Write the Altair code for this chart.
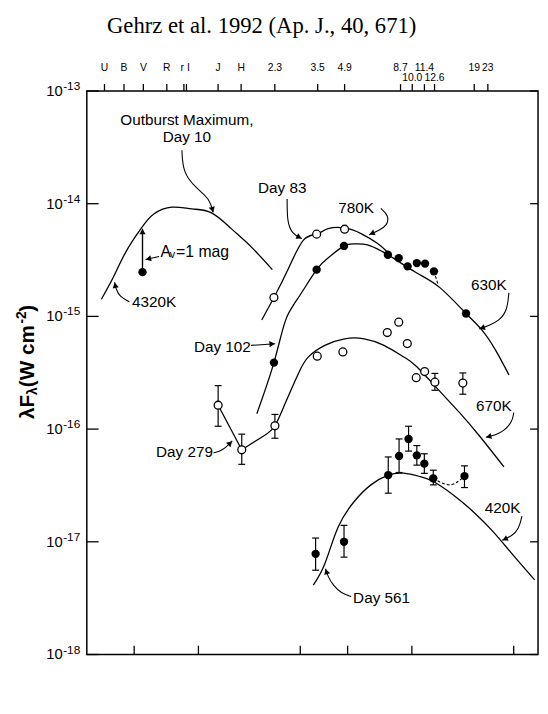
import math
import altair as alt
import pandas as pd

# ---------------- data ----------------
# Day 10 (outburst maximum), 4320 K curve and V point
d10_curve_wl = [0.351, 0.398, 0.458, 0.538, 0.620, 0.753, 0.931, 1.152, 1.425, 1.762, 2.220]
d10_curve_f = [1.42e-15, 2.20e-15, 3.76e-15, 6.01e-15, 8.13e-15, 9.31e-15, 8.99e-15, 8.30e-15, 6.01e-15, 4.16e-15, 2.60e-15]
d10_pt_wl = [0.547]
d10_pt_f = [2.47e-15]
d10_dered_f = [6.0e-15]

# Day 83 (open circles), 780 K curve
d83_wl = [2.258, 3.58, 4.84]
d83_f = [1.47e-15, 5.37e-15, 5.94e-15]
d83_curve_wl = [1.98, 2.258, 2.648, 3.105, 3.58, 4.05, 4.84, 5.78, 6.89, 7.64]
d83_curve_f = [9.3e-16, 1.47e-15, 2.69e-15, 4.75e-15, 5.37e-15, 6.01e-15, 6.10e-15, 5.43e-15, 4.45e-15, 3.76e-15]

# Day 102 (filled circles), 630 K curve
d102_wl = [2.258, 3.58, 4.81, 7.72, 8.68, 9.55, 10.55, 11.53, 12.69, 17.94]
d102_f = [3.89e-16, 2.60e-15, 4.22e-15, 3.52e-15, 3.29e-15, 2.78e-15, 2.97e-15, 2.94e-15, 2.51e-15, 1.06e-15]
d102_curve_wl = [1.878, 2.258, 2.557, 2.936, 3.58, 4.125, 4.81, 5.38, 6.20, 7.27, 8.23, 10.55, 13.53, 17.94, 21.4, 24.7, 28.5]
d102_curve_f = [1.37e-16, 3.89e-16, 9.18e-16, 1.46e-15, 2.60e-15, 3.40e-15, 4.22e-15, 4.40e-15, 4.31e-15, 3.76e-15, 3.27e-15,
                2.43e-15, 1.80e-15, 1.06e-15, 7.48e-16, 5.00e-16, 3.03e-16]
d102_dash_wl = [12.69, 13.28]
d102_dash_f = [2.51e-15, 1.91e-15]

# Day 279 (open circles), straight join J-H, then 670 K curve
d279_wl = [1.237, 1.596, 2.282, 3.604, 4.75, 7.67, 8.68, 9.52, 10.48, 11.48, 12.82, 17.33]
d279_f = [1.63e-16, 6.55e-17, 1.07e-16, 4.44e-16, 4.84e-16, 7.19e-16, 8.89e-16, 5.74e-16, 2.86e-16, 3.24e-16, 2.61e-16, 2.56e-16]
d279_err_wl = [1.237, 1.596, 2.282, 12.82, 17.33]
d279_err_lo = [1.06e-16, 4.87e-17, 8.3e-17, 2.21e-16, 2.04e-16]
d279_err_hi = [2.43e-16, 9.02e-17, 1.35e-16, 3.12e-16, 3.15e-16]
d279_join_wl = [1.237, 1.596]
d279_join_f = [1.63e-16, 6.55e-17]
d279_curve_wl = [1.596, 2.030, 2.282, 2.557, 2.945, 3.275, 3.911, 4.84, 5.98, 7.40, 9.16, 10.55, 13.53, 16.73, 20.7, 27.0]
d279_curve_f = [6.55e-17, 8.73e-17, 1.07e-16, 1.71e-16, 3.13e-16, 4.37e-16, 5.53e-16, 6.33e-16, 6.33e-16,
                5.53e-16, 4.37e-16, 3.57e-16, 2.16e-16, 1.40e-16, 8.73e-17, 4.62e-17]

# Day 561 (filled circles with error bars), 420 K curve
d561_wl = [3.54, 4.81, 7.75, 8.71, 9.65, 10.55, 11.44, 12.60, 17.64]
d561_f = [7.82e-18, 1.00e-17, 3.91e-17, 5.78e-17, 8.18e-17, 5.85e-17, 4.94e-17, 3.66e-17, 3.83e-17]
d561_lo = [5.60e-18, 7.31e-18, 2.70e-17, 4.12e-17, 6.38e-17, 4.79e-17, 4.05e-17, 3.20e-17, 3.03e-17]
d561_hi = [1.08e-17, 1.40e-17, 5.66e-17, 8.18e-17, 1.06e-16, 7.14e-17, 6.04e-17, 4.32e-17, 4.72e-17]
d561_dash_wl = [12.60, 15.04, 17.64]
d561_dash_f = [3.66e-17, 3.20e-17, 3.83e-17]
c420_wl = [3.454, 3.911, 4.506, 5.38, 6.43, 7.75, 9.16, 10.93, 12.60, 15.58, 19.27, 23.84, 29.48, 37.6]
c420_f = [4.13e-18, 6.38e-18, 1.34e-17, 2.29e-17, 3.20e-17, 3.91e-17, 4.06e-17, 3.79e-17, 3.43e-17, 2.62e-17,
          1.87e-17, 1.25e-17, 7.82e-18, 4.60e-18]

# annotation labels
ann_text = ["Outburst Maximum,", "Day 10", "4320K", "Day 83", "780K", "630K", "Day 102", "Day 279", "670K", "420K", "Day 561"]
ann_wl = [0.883, 0.883, 0.620, 2.469, 5.48, 22.96, 1.295, 0.860, 24.2, 26.6, 7.21]
ann_f = [5.47e-14, 3.88e-14, 1.33e-15, 1.39e-14, 9.12e-15, 1.91e-15, 5.35e-16, 6.25e-17, 1.60e-16, 2.00e-17, 3.16e-18]

av_text = ["A", "v", "=1 mag"]
av_wl = [0.665, 0.733, 0.786]
av_f = [3.76e-15, 3.47e-15, 3.76e-15]

# leader arrows (last point = arrow tip)
leaders = {
    "day10": ([0.837, 0.846, 0.982, 1.128, 1.173], [2.98e-14, 1.87e-14, 1.36e-14, 1.11e-14, 8.37e-15]),
    "av": ([0.654, 0.565], [3.40e-15, 3.20e-15]),
    "k4320": ([0.475, 0.4286, 0.4108, 0.405], [1.35e-15, 1.49e-15, 1.75e-15, 2.01e-15]),
    "day83": ([2.604, 2.604, 2.746, 3.053], [1.10e-14, 6.87e-15, 5.42e-15, 4.90e-15]),
    "k780": ([7.15, 7.80, 7.67, 7.02, 6.31], [9.08e-15, 7.84e-15, 6.41e-15, 5.80e-15, 5.31e-15]),
    "k630": ([28.47, 27.96, 25.59, 23.01, 20.70], [1.62e-15, 1.12e-15, 9.16e-16, 8.28e-16, 7.75e-16]),
    "day102": ([1.762, 2.287], [5.53e-16, 5.72e-16]),
    "day279": ([1.177, 1.295, 1.440], [6.17e-17, 6.42e-17, 7.85e-17]),
    "k670": ([30.02, 29.48, 27.0, 24.69, 22.20], [1.40e-16, 1.15e-16, 9.66e-17, 8.87e-17, 8.46e-17]),
    "k420": ([32.8, 31.66, 29.48, 26.5], [1.69e-17, 1.29e-17, 1.13e-17, 1.03e-17]),
    "day561": ([5.195, 4.67, 4.27, 4.05, 3.94], [3.27e-18, 3.49e-18, 4.13e-18, 4.89e-18, 5.77e-18]),
}

# axes
x_label_values = [0.3, 0.5, 1.0, 3.0, 5.0, 10.0, 30.0]
x_tick_values = [0.5, 1.0, 3.0, 5.0, 10.0, 30.0]
y_tick_values = [1e-13, 1e-14, 1e-15, 1e-16, 1e-17, 1e-18]
y_tick_exp = ["-13", "-14", "-15", "-16", "-17", "-18"]
top_tick_wl = [0.363, 0.448, 0.552, 0.711, 0.855, 0.879, 1.236, 1.585, 2.28, 3.62, 4.84, 8.85, 10.04, 11.45, 12.77, 19.6, 22.7]
top_upper_names = ["U", "B", "V", "R", "r I", "J", "H", "2.3", "3.5", "4.9", "8.7", "11.4", "19", "23"]
top_upper_wl = [0.363, 0.448, 0.552, 0.711, 0.867, 1.236, 1.585, 2.28, 3.62, 4.84, 8.85, 11.45, 19.6, 22.7]
top_lower_names = ["10.0", "12.6"]
top_lower_wl = [10.04, 12.77]

TITLE = "Gehrz et al. 1992 (Ap. J., 40, 671)"

# ---------------- chart ----------------
W, H = 458, 572
XD = [0.3, 39.0]
YD = [1e-18, 1e-13]
FONT = "Liberation Sans"

xs = alt.Scale(type="log", domain=XD, nice=False)
ys = alt.Scale(type="log", domain=YD, nice=False)


def X(field="wl"):
    return alt.X(f"{field}:Q", scale=xs, axis=None)


def Y(field="f"):
    return alt.Y(f"{field}:Q", scale=ys, axis=None)


def to_px(wl, f):
    lx0, lx1 = math.log10(XD[0]), math.log10(XD[1])
    ly0, ly1 = math.log10(YD[0]), math.log10(YD[1])
    return W * (math.log10(wl) - lx0) / (lx1 - lx0), H * (ly1 - math.log10(f)) / (ly1 - ly0)


def from_px(px, py):
    lx0, lx1 = math.log10(XD[0]), math.log10(XD[1])
    ly0, ly1 = math.log10(YD[0]), math.log10(YD[1])
    return 10 ** (lx0 + px / W * (lx1 - lx0)), 10 ** (ly1 - py / H * (ly1 - ly0))


x_axis = alt.Axis(values=x_label_values, format=".1f", ticks=False, tickSize=0, domain=False, grid=False,
                  labelFont=FONT, labelFontSize=10, labelColor="black", labelPadding=9, labelFlush=False,
                  labelOverlap=False, title="λ in Microns", titleFont=FONT, titleFontSize=21,
                  titleFontWeight="bold", titleColor="black", titleY=45, titleBaseline="alphabetic")

curves = pd.concat([
    pd.DataFrame({"wl": d10_curve_wl, "f": d10_curve_f, "id": "d10"}),
    pd.DataFrame({"wl": d83_curve_wl, "f": d83_curve_f, "id": "d83"}),
    pd.DataFrame({"wl": d102_curve_wl, "f": d102_curve_f, "id": "d102"}),
    pd.DataFrame({"wl": d279_curve_wl, "f": d279_curve_f, "id": "d279"}),
    pd.DataFrame({"wl": c420_wl, "f": c420_f, "id": "d561"}),
], ignore_index=True)

curve_layer = alt.Chart(curves).mark_line(interpolate="natural", color="black", strokeWidth=1.3).encode(
    x=alt.X("wl:Q", scale=xs, axis=x_axis), y=Y(), detail="id:N")

join_layer = alt.Chart(pd.DataFrame({"wl": d279_join_wl, "f": d279_join_f})).mark_line(
    color="black", strokeWidth=1.3).encode(x=X(), y=Y())

dashes = pd.concat([
    pd.DataFrame({"wl": d102_dash_wl, "f": d102_dash_f, "id": "a"}),
    pd.DataFrame({"wl": d561_dash_wl, "f": d561_dash_f, "id": "b"}),
], ignore_index=True)
dash_layer = alt.Chart(dashes).mark_line(interpolate="monotone", color="black", strokeWidth=1.1,
                                         strokeDash=[3, 2]).encode(x=X(), y=Y(), detail="id:N")

# leaders
rows = []
heads = []
for name, (lw, lf) in leaders.items():
    for i, (a, b) in enumerate(zip(lw, lf)):
        rows.append({"wl": a, "f": b, "id": name, "idx": i})
    p1 = to_px(lw[-2], lf[-2])
    p2 = to_px(lw[-1], lf[-1])
    dx, dy = p2[0] - p1[0], p2[1] - p1[1]
    n = math.hypot(dx, dy) or 1.0
    ang = math.degrees(math.atan2(dx, -dy)) % 360
    cw, cf = from_px(p2[0] - dx / n * 3.0, p2[1] - dy / n * 3.0)
    heads.append({"wl": cw, "f": cf, "angle": ang})

# the A_V vertical arrow
p2 = to_px(d10_pt_wl[0], d10_dered_f[0])
cw, cf = from_px(p2[0], p2[1] + 3.0)
heads.append({"wl": cw, "f": cf, "angle": 0.0})

leader_layer = alt.Chart(pd.DataFrame(rows)).mark_line(interpolate="basis", color="black", strokeWidth=1.1).encode(
    x=X(), y=Y(), detail="id:N", order=alt.Order("idx:Q"))
head_layer = alt.Chart(pd.DataFrame(heads)).mark_point(shape="triangle-up", filled=True, color="black",
                                                      size=40, opacity=1).encode(
    x=X(), y=Y(), angle=alt.Angle("angle:Q", scale=None))

av_arrow = alt.Chart(pd.DataFrame({"wl": d10_pt_wl, "f": d10_pt_f, "f2": d10_dered_f})).mark_rule(
    color="black", strokeWidth=1.4).encode(x=X(), y=Y(), y2=alt.Y2("f2:Q"))

# error bars
err = pd.concat([
    pd.DataFrame({"wl": d279_err_wl, "lo": d279_err_lo, "hi": d279_err_hi}),
    pd.DataFrame({"wl": d561_wl, "lo": d561_lo, "hi": d561_hi}),
], ignore_index=True)
err_rule = alt.Chart(err).mark_rule(color="black", strokeWidth=1.2).encode(x=X(), y=Y("lo"), y2=alt.Y2("hi:Q"))
caps = pd.concat([err[["wl", "lo"]].rename(columns={"lo": "f"}), err[["wl", "hi"]].rename(columns={"hi": "f"})],
                 ignore_index=True)
cap_layer = alt.Chart(caps).mark_tick(orient="horizontal", size=7, thickness=1.2, color="black", opacity=1).encode(
    x=X(), y=Y())

open_pts = pd.concat([
    pd.DataFrame({"wl": d83_wl, "f": d83_f}),
    pd.DataFrame({"wl": d279_wl, "f": d279_f}),
], ignore_index=True)
open_layer = alt.Chart(open_pts).mark_circle(size=64, fill="white", stroke="black", strokeWidth=1.3,
                                             opacity=1).encode(x=X(), y=Y())

filled_pts = pd.concat([
    pd.DataFrame({"wl": d10_pt_wl, "f": d10_pt_f}),
    pd.DataFrame({"wl": d102_wl, "f": d102_f}),
    pd.DataFrame({"wl": d561_wl, "f": d561_f}),
], ignore_index=True)
filled_layer = alt.Chart(filled_pts).mark_circle(size=72, color="black", opacity=1).encode(x=X(), y=Y())

# annotation text
ann_layer = alt.Chart(pd.DataFrame({"wl": ann_wl, "f": ann_f, "t": ann_text})).mark_text(
    font=FONT, fontSize=15.5, color="black", align="center", baseline="middle").encode(x=X(), y=Y(), text="t:N")
av_df = pd.DataFrame({"wl": av_wl, "f": av_f, "t": av_text})
av_big = alt.Chart(av_df.iloc[[0, 2]]).mark_text(font=FONT, fontSize=16, color="black", align="left",
                                                 baseline="middle").encode(x=X(), y=Y(), text="t:N")
av_small = alt.Chart(av_df.iloc[[1]]).mark_text(font=FONT, fontSize=11, color="black", align="left",
                                                baseline="middle").encode(x=X(), y=Y(), text="t:N")

# frame ticks
bottom_ticks = alt.Chart(pd.DataFrame({"wl": x_tick_values})).mark_tick(
    orient="vertical", size=9, thickness=1.3, color="black", opacity=1).encode(x=X(), y=alt.value(H - 4.5))
top_ticks = alt.Chart(pd.DataFrame({"wl": top_tick_wl})).mark_tick(
    orient="vertical", size=7, thickness=1.3, color="black", opacity=1).encode(x=X(), y=alt.value(-3.5))
left_ticks = alt.Chart(pd.DataFrame({"f": y_tick_values})).mark_tick(
    orient="horizontal", size=12, thickness=1.3, color="black", opacity=1).encode(y=Y(), x=alt.value(6))
right_ticks = alt.Chart(pd.DataFrame({"f": y_tick_values})).mark_tick(
    orient="horizontal", size=8, thickness=1.3, color="black", opacity=1).encode(y=Y(), x=alt.value(W - 4))

# y labels 10^-n
ylab = pd.DataFrame({"f": y_tick_values, "base": ["10"] * len(y_tick_values), "exp": y_tick_exp})
ylab_base = alt.Chart(ylab).mark_text(font=FONT, fontSize=15, color="black", align="right",
                                      baseline="middle").encode(y=Y(), x=alt.value(-24.5), text="base:N")
ylab_exp = alt.Chart(ylab).mark_text(font=FONT, fontSize=12, color="black", align="left", baseline="middle",
                                     dy=-5).encode(y=Y(), x=alt.value(-24.0), text="exp:N")

# top band labels
top_up = alt.Chart(pd.DataFrame({"wl": top_upper_wl, "t": top_upper_names})).mark_text(
    font=FONT, fontSize=10.5, color="black", align="center", baseline="middle").encode(
    x=X(), y=alt.value(-23), text="t:N")
top_lo = alt.Chart(pd.DataFrame({"wl": top_lower_wl, "t": top_lower_names})).mark_text(
    font=FONT, fontSize=10.5, color="black", align="center", baseline="middle").encode(
    x=X(), y=alt.value(-13), text="t:N")

# title
title_layer = alt.Chart(pd.DataFrame({"t": [TITLE]})).mark_text(
    font="Liberation Serif", fontSize=23, color="black", align="center", baseline="middle").encode(
    x=alt.value(177.5), y=alt.value(-66), text="t:N")

# y axis title, rotated, with sub/superscripts
ytitle_parts = [
    ("λF", 21, -60, 333),
    ("λ", 14, -55, 308.5),
    (" (W cm", 21, -60, 300.7),
    ("-2", 14, -66, 236.0),
    (")", 21, -60, 224.0),
]
ytitle_layers = []
for txt, fs, xx, yy in ytitle_parts:
    ytitle_layers.append(
        alt.Chart(pd.DataFrame({"t": [txt]})).mark_text(
            font=FONT, fontSize=fs, fontWeight="bold", color="black", angle=270, align="left",
            baseline="middle").encode(x=alt.value(xx), y=alt.value(yy), text="t:N"))

chart = alt.layer(
    curve_layer, join_layer, dash_layer, leader_layer, av_arrow, err_rule, cap_layer, open_layer, filled_layer,
    head_layer, ann_layer, av_big, av_small, bottom_ticks, top_ticks, left_ticks, right_ticks,
    ylab_base, ylab_exp, top_up, top_lo, title_layer, *ytitle_layers
).properties(
    width=W, height=H,
    padding={"left": 80, "top": 79, "right": 2, "bottom": 46},
    autosize=alt.AutoSizeParams(type="none"),
    background="white",
).configure_view(stroke="black", strokeWidth=1.5)

chart.save("out.html", embed_options={"renderer": "svg", "actions": False})
